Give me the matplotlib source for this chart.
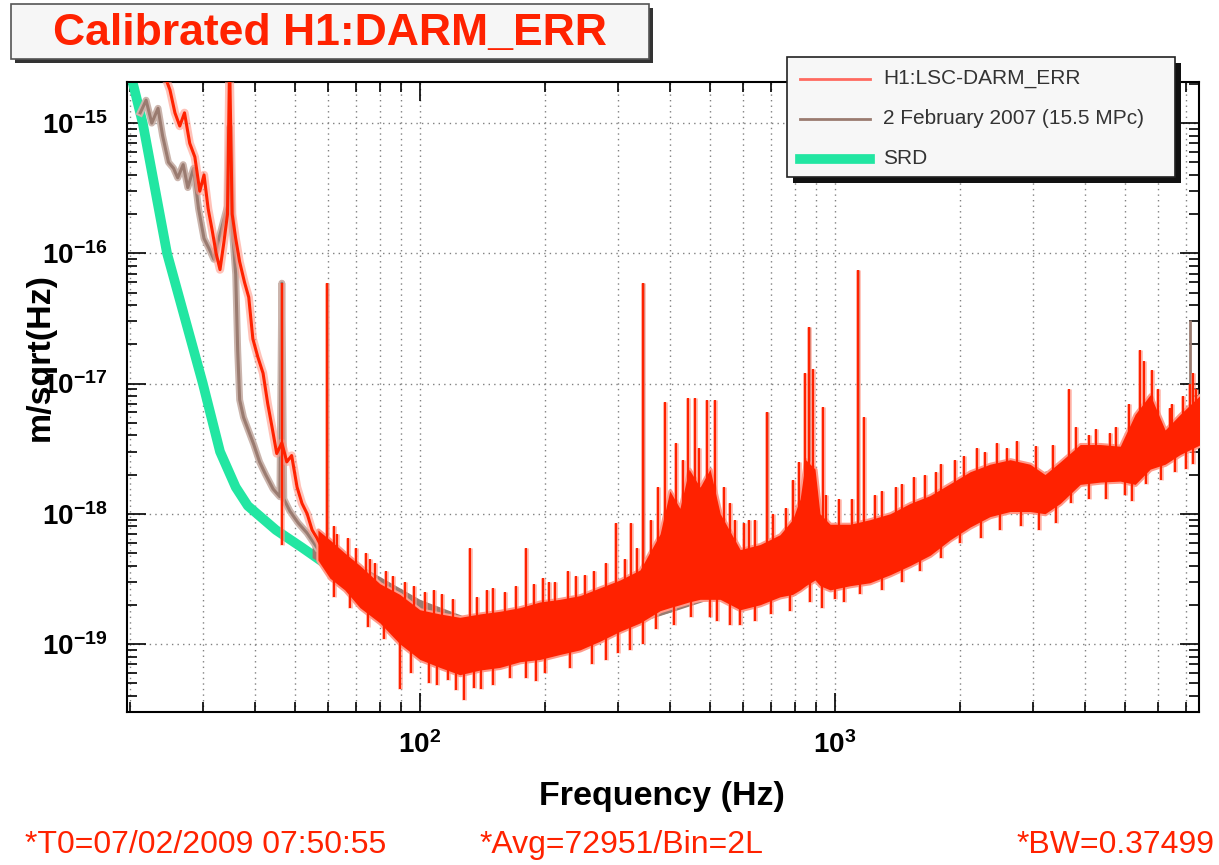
import matplotlib.pyplot as plt
import numpy as np
from matplotlib.patches import Rectangle
from matplotlib.lines import Line2D
from matplotlib.ticker import LogLocator, NullFormatter, FuncFormatter

plt.rcParams['font.family'] = ['Liberation Sans', 'DejaVu Sans']
plt.rcParams['mathtext.fontset'] = 'custom'
plt.rcParams['mathtext.rm'] = 'Liberation Sans:bold'
plt.rcParams['mathtext.bf'] = 'Liberation Sans:bold'

RED = '#ff2200'
PINK = '#ff9a8a'
BROWN = '#9a7b70'
GREEN = '#22e6a2'

# SRD design curve
srd_f = [19.5, 21.5, 24.6, 30, 33, 36, 38.5, 45, 52, 60, 70, 80, 100, 120, 150,
         180, 220, 300, 400, 500, 700, 1000, 1500, 2000, 3000, 4000, 5500, 7600]
srd_h = [3.5e-15, 1e-15, 1e-16, 1e-17, 3e-18, 1.6e-18, 1.15e-18, 7.5e-19, 5.5e-19,
         4e-19, 2.9e-19, 2.3e-19, 1.6e-19, 1.25e-19, 1.1e-19, 1.05e-19, 1.1e-19,
         1.45e-19, 1.9e-19, 2.5e-19, 3.6e-19, 5.2e-19, 7.8e-19, 1.05e-18, 1.6e-18,
         2.1e-18, 2.9e-18, 3.8e-18]

# 2 February 2007, low frequency trace
ref_f = [21.2, 21.9, 22.6, 23.4, 24.0, 24.8, 25.5, 26.1, 26.9, 27.6, 28.5, 29.3,
         30.2, 31.0, 31.9, 32.8, 33.7, 34.4, 34.8, 35.3, 36.0, 36.4, 36.8, 37.6,
         38.6, 39.8, 41.1, 42.5, 44.3, 46.0, 46.5, 47.0, 48.6, 50.9, 53.5, 56.5]
ref_h = [1.2e-15, 1.5e-15, 1.0e-15, 1.3e-15, 8e-16, 5e-16, 4.5e-16, 3.8e-16, 4.8e-16,
         3.2e-16, 4.5e-16, 2.2e-16, 1.3e-16, 1.1e-16, 9e-17, 1.3e-16, 1.8e-16, 2.3e-16,
         9.3e-16, 1.6e-16, 6.9e-17, 1.8e-17, 7.5e-18, 5.5e-18, 4.4e-18, 3.4e-18,
         2.5e-18, 2.0e-18, 1.55e-18, 1.35e-18, 5.9e-17, 1.3e-18, 1.05e-18, 8.5e-19,
         7.1e-19, 5.5e-19]
# 2 February 2007, noise band above 55 Hz
ref_band_f = [55, 65, 80, 100, 130, 170, 220, 300, 400, 520, 700, 900, 1200, 1600,
              2200, 3000, 4000, 5500, 7600]
ref_band_lo = [4.6e-19, 3.4e-19, 2.4e-19, 1.6e-19, 1.2e-19, 1.05e-19, 1.05e-19,
               1.3e-19, 1.75e-19, 2.3e-19, 3.2e-19, 4.2e-19, 5.8e-19, 7.5e-19,
               1.0e-18, 1.45e-18, 1.95e-18, 2.6e-18, 3.5e-18]
ref_band_hi = [6.5e-19, 4.8e-19, 3.3e-19, 2.2e-19, 1.6e-19, 1.45e-19, 1.45e-19,
               1.8e-19, 2.4e-19, 3.2e-19, 4.4e-19, 5.8e-19, 8e-19, 1.05e-18,
               1.4e-18, 2.0e-18, 2.6e-18, 3.4e-18, 4.6e-18]
ref_spike_f = [59.7, 345, 685, 864, 1135, 7160]
ref_spike_h = [5.9e-17, 5.9e-17, 6e-18, 2.7e-17, 7.4e-17, 3.1e-17]

# H1:LSC-DARM_ERR, low frequency trace
darm_f = [24.3, 25.0, 25.7, 26.4, 27.1, 27.9, 28.7, 29.5, 30.2, 30.9, 31.6, 32.3,
          33.0, 33.7, 34.4, 34.8, 35.3, 36.0, 36.8, 37.8, 38.7, 39.6, 40.7, 41.9,
          43.0, 44.0, 45.2, 46.5, 47.8, 49.1, 50.6, 52.0, 53.5, 55.0, 56.5, 58.1]
darm_h = [2.3e-15, 1.8e-15, 1.2e-15, 9.5e-16, 1.2e-15, 7e-16, 5.5e-16, 3.0e-16,
          4e-16, 2.2e-16, 1.5e-16, 1.0e-16, 7.5e-17, 1.2e-16, 2.0e-16, 3e-15, 2.0e-16,
          1.3e-16, 8.6e-17, 6e-17, 4.6e-17, 2.2e-17, 1.6e-17, 1.2e-17, 7e-18, 4.7e-18,
          2.9e-18, 3.5e-18, 2.5e-18, 2.8e-18, 1.6e-18, 1.2e-18, 1.0e-18, 7.5e-19,
          6.5e-19, 5.5e-19]
# H1:LSC-DARM_ERR, noise band
darm_band_f = [56.8, 60.7, 65.9, 71.7, 80.1, 89.5, 100, 111.7, 124.8, 139.5, 155.8,
               174.2, 194.6, 217.5, 243, 271.6, 303.5, 339, 379, 400, 423, 445,
               473, 500, 529, 591, 660, 737, 790, 824, 850, 895, 920, 973, 1087,
               1213, 1358, 1517, 1695, 1893, 2115, 2362, 2640, 2950, 3205, 3487,
               3896, 4353, 4864, 5284, 5744, 6240, 6784, 7600]
darm_band_lo = [4.4e-19, 3.2e-19, 2.6e-19, 1.9e-19, 1.45e-19, 1.0e-19, 7.6e-20,
                6.6e-20, 5.8e-20, 6.3e-20, 6.6e-20, 7.3e-20, 7.6e-20, 8.3e-20,
                9.0e-20, 1.05e-19, 1.25e-19, 1.45e-19, 1.8e-19, 1.9e-19, 2.0e-19,
                2.1e-19, 2.2e-19, 2.2e-19, 2.2e-19, 1.83e-19, 2.0e-19, 2.3e-19,
                2.4e-19, 2.6e-19, 2.8e-19, 3.1e-19, 2.8e-19, 2.6e-19, 2.8e-19,
                2.95e-19, 3.4e-19, 4.0e-19, 4.8e-19, 6.3e-19, 7.9e-19, 9.5e-19,
                1.04e-18, 1.04e-18, 1.0e-18, 1.2e-18, 1.68e-18, 1.75e-18, 1.78e-18,
                1.68e-18, 2.2e-18, 2.4e-18, 2.85e-18, 3.4e-18]
darm_band_hi = [7.5e-19, 6.3e-19, 5.0e-19, 4.0e-19, 2.9e-19, 2.4e-19, 1.83e-19,
                1.7e-19, 1.6e-19, 1.7e-19, 1.78e-19, 1.9e-19, 2.1e-19, 2.2e-19,
                2.35e-19, 2.7e-19, 3.1e-19, 3.7e-19, 7.0e-19, 1.5e-18, 1.1e-18,
                2.2e-18, 1.6e-18, 2.2e-18, 1.0e-18, 5.3e-19, 5.8e-19, 6.9e-19,
                9e-19, 1.3e-18, 2.6e-18, 2.2e-18, 1.0e-18, 8.3e-19, 8.3e-19,
                9.0e-19, 1.0e-18, 1.2e-18, 1.38e-18, 1.7e-18, 2.1e-18, 2.4e-18,
                2.6e-18, 2.4e-18, 2.0e-18, 2.5e-18, 3.4e-18, 3.4e-18, 3.3e-18,
                5.8e-18, 8.2e-18, 4.4e-18, 5.8e-18, 8.2e-18]
# lines and narrow peaks standing above the band
darm_spike_f = [46.5, 59.7, 62, 63, 67, 70, 74, 76, 78, 83, 86, 92, 97, 103, 108, 113,
                120, 132, 137, 145, 150, 160, 170, 180, 188, 198, 205, 212, 228,
                238, 250, 262, 280, 297, 312, 323, 333, 345, 360, 375, 389, 415,
                430, 442, 459, 470, 492, 513, 540, 560, 575, 605, 620, 640, 685,
                710, 760, 790, 820, 847, 864, 886, 935, 950, 1020, 1100, 1135,
                1174, 1250, 1300, 1400, 1450, 1550, 1650, 1750, 1800, 1950, 2050,
                2200, 2300, 2450, 2600, 2750, 3050, 3350, 3670, 3800, 4100, 4250,
                4600, 4750, 5100, 5434, 5560, 5800, 6000, 6400, 6500, 6900, 7160,
                7300, 7400]
darm_spike_h = [5.9e-17, 5.9e-17, 8e-19, 7e-19, 6.5e-19, 5.5e-19, 5e-19, 4.5e-19,
                4.2e-19, 3.6e-19, 3.3e-19, 3.0e-19, 2.8e-19, 2.5e-19, 2.6e-19, 2.4e-19,
                2.2e-19, 5.5e-19, 2.3e-19, 2.6e-19, 2.7e-19, 2.5e-19, 2.8e-19, 5.5e-19,
                2.9e-19, 3.2e-19, 3e-19, 3.0e-19, 3.6e-19, 3.3e-19, 3.4e-19, 3.6e-19,
                4.2e-19, 8.5e-19, 4.5e-19, 8.5e-19, 5.5e-19, 5.9e-17, 9e-19, 1.6e-18,
                7.2e-18, 3.5e-18, 2.6e-18, 7.7e-18, 7.7e-18, 3.2e-18, 7.5e-18, 7.5e-18,
                1.6e-18, 1.2e-18, 9e-19, 8.5e-19, 9e-19, 9e-19, 6e-18, 1.0e-18, 1.1e-18,
                1.8e-18, 2.5e-18, 1.2e-17, 2.7e-17, 1.3e-17, 6.6e-18, 1.4e-18, 1.3e-18,
                1.3e-18, 7.4e-17, 5.5e-18, 1.4e-18, 1.5e-18, 1.6e-18, 1.7e-18, 1.9e-18,
                2.0e-18, 2.1e-18, 2.4e-18, 2.6e-18, 2.8e-18, 3.2e-18, 3.0e-18, 3.5e-18,
                3.2e-18, 3.6e-18, 3.3e-18, 3.4e-18, 9e-18, 4.6e-18, 4e-18, 4.5e-18,
                4.2e-18, 4.6e-18, 7e-18, 1.8e-17, 1.5e-17, 1.26e-17, 9e-18, 6.5e-18,
                7e-18, 8e-18, 1.0e-17, 1.2e-17, 9e-18]
# narrow dips below the band
darm_dip_f = [62, 68, 75, 82, 89.5, 95, 105, 110, 117, 122, 128, 135, 140, 150, 165,
              180, 190, 200, 230, 260, 280, 300, 320, 345, 370, 410, 450, 500, 520,
              560, 590, 640, 700, 780, 870, 930, 1000, 1050, 1150, 1300, 1450,
              1600, 1800, 2000, 2250, 2500, 2800, 3100, 3400, 3700, 4100, 4500,
              5000, 5200, 5600, 6100, 6600, 7000, 7300]
darm_dip_h = [2.3e-19, 1.9e-19, 1.35e-19, 1.1e-19, 4.5e-20, 6e-20, 5e-20, 4.8e-20,
              5.3e-20, 4.4e-20, 3.7e-20, 4.6e-20, 4.5e-20, 4.8e-20, 5.5e-20, 5.5e-20,
              5.2e-20, 6e-20, 6.5e-20, 7e-20, 7.5e-20, 8.5e-20, 9e-20, 1e-19, 1.3e-19,
              1.4e-19, 1.6e-19, 1.6e-19, 1.5e-19, 1.4e-19, 1.4e-19, 1.5e-19, 1.7e-19,
              1.8e-19, 2.1e-19, 1.9e-19, 2.2e-19, 2.1e-19, 2.4e-19, 2.6e-19, 3e-19,
              3.6e-19, 4.6e-19, 6e-19, 6.5e-19, 7.5e-19, 8e-19, 7.5e-19, 8.5e-19,
              1.2e-18, 1.3e-18, 1.3e-18, 1.4e-18, 1.25e-18, 1.7e-18, 1.8e-18, 2.1e-18,
              2.2e-18, 2.4e-18]

x_lim = (19.7, 7530)
y_lim = (3.0e-20, 2.07e-15)


def band_mid(f, band_f, lo, hi):
    # geometric centre of a band at frequency f, used as spike foot
    mid = 0.5 * (np.log10(lo) + np.log10(hi))
    return 10 ** np.interp(np.log10(f), np.log10(band_f), mid)


def decade_label(v, pos):
    return r'$\mathbf{10^{%d}}$' % int(round(np.log10(v)))


fig = plt.figure(figsize=(12.19, 8.65), dpi=100)
ax = fig.add_axes([127 / 1219, 1 - 712 / 865, 1072 / 1219, 630 / 865])
ax.set_xscale('log')
ax.set_yscale('log')

# SRD
ax.plot(srd_f, srd_h, color=GREEN, lw=7, solid_capstyle='butt', zorder=2)

# 2007 reference
ax.fill_between(ref_band_f, ref_band_lo, ref_band_hi, color=BROWN, lw=0, zorder=3)
ax.plot(ref_f, ref_h, color='#cbb5ad', lw=5, zorder=3)
ax.plot(ref_f, ref_h, color=BROWN, lw=2.2, zorder=3)
ref_base = band_mid(ref_spike_f, ref_band_f, ref_band_lo, ref_band_hi)
ax.vlines(ref_spike_f, ref_base, ref_spike_h, color=BROWN, lw=2, zorder=3)

# current DARM_ERR
ax.plot(darm_f, darm_h, color=PINK, lw=6, alpha=0.6, zorder=4)
ax.plot(darm_f, darm_h, color=RED, lw=2.2, zorder=5)
ax.fill_between(darm_band_f, darm_band_lo, darm_band_hi, color=PINK, lw=3,
                edgecolor=PINK, zorder=4)
ax.fill_between(darm_band_f, darm_band_lo, darm_band_hi, color=RED, lw=0, zorder=5)
up_base = band_mid(darm_spike_f, darm_band_f, darm_band_lo, darm_band_hi)
ax.vlines(darm_spike_f, up_base, darm_spike_h, color=PINK, lw=3.5, alpha=0.6, zorder=4)
ax.vlines(darm_spike_f, up_base, darm_spike_h, color=RED, lw=1.6, zorder=5)
dn_base = band_mid(darm_dip_f, darm_band_f, darm_band_lo, darm_band_hi)
ax.vlines(darm_dip_f, darm_dip_h, dn_base, color=PINK, lw=3.5, alpha=0.6, zorder=4)
ax.vlines(darm_dip_f, darm_dip_h, dn_base, color=RED, lw=1.6, zorder=5)

ax.set_xlim(*x_lim)
ax.set_ylim(*y_lim)

ax.xaxis.set_minor_locator(LogLocator(base=10, subs=np.arange(2, 10)))
ax.yaxis.set_minor_locator(LogLocator(base=10, subs=np.arange(2, 10)))
ax.xaxis.set_major_formatter(FuncFormatter(decade_label))
ax.yaxis.set_major_formatter(FuncFormatter(decade_label))
ax.xaxis.set_minor_formatter(NullFormatter())
ax.yaxis.set_minor_formatter(NullFormatter())
ax.tick_params(which='both', direction='in', top=True, right=True, width=1.2,
               labelsize=20)
ax.tick_params(which='major', length=14)
ax.tick_params(which='minor', length=7)
ax.tick_params(axis='x', pad=14)
ax.tick_params(axis='y', pad=14)

ax.grid(True, axis='x', which='both', color='#808080', lw=1, ls=(0, (1, 3)))
ax.grid(True, axis='y', which='major', color='#808080', lw=1, ls=(0, (1, 3)))
for s in ax.spines.values():
    s.set_linewidth(1.5)

W, H = 1219.0, 865.0
fig.text(662 / W, 1 - 797 / H, 'Frequency (Hz)', ha='center', va='center',
         fontsize=24.5, fontweight='bold')
fig.text(40 / W, 1 - 357 / H, 'm/sqrt(Hz)', ha='center', va='center',
         rotation=90, fontsize=24.5, fontweight='bold')

# title box
fig.patches.append(Rectangle((15 / W, 1 - 63 / H), 638 / W, 55 / H,
                             transform=fig.transFigure, facecolor='#333333',
                             edgecolor='none', zorder=1))
fig.patches.append(Rectangle((11 / W, 1 - 59 / H), 638 / W, 55 / H,
                             transform=fig.transFigure, facecolor='#f6f6f6',
                             edgecolor='#555555', lw=1.2, zorder=2))
fig.text(330 / W, 1 - 33 / H, 'Calibrated H1:DARM_ERR', ha='center', va='center',
         fontsize=32, fontweight='bold', color=RED, zorder=3)

# legend box
fig.patches.append(Rectangle((793 / W, 1 - 183 / H), 388 / W, 120 / H,
                             transform=fig.transFigure, facecolor='#111111',
                             edgecolor='none', zorder=6))
fig.patches.append(Rectangle((787 / W, 1 - 177 / H), 388 / W, 120 / H,
                             transform=fig.transFigure, facecolor='#f7f7f7',
                             edgecolor='#222222', lw=1.2, zorder=7))
legend_labels = ['H1:LSC-DARM_ERR', '2 February 2007 (15.5 MPc)', 'SRD']
legend_colors = ['#ff6a60', BROWN, GREEN]
legend_widths = [2, 2, 7]
for i, (lab, col, lw) in enumerate(zip(legend_labels, legend_colors, legend_widths)):
    yy = 1 - (79 + 40 * i) / H
    fig.lines.append(Line2D([800 / W, 870 / W], [yy, yy], transform=fig.transFigure,
                            color=col, lw=lw, zorder=8))
    fig.text(883 / W, yy, lab, ha='left', va='center', fontsize=15,
             color='#333333', zorder=8)

# run info
fig.text(25 / W, 1 - 845 / H, '*T0=07/02/2009 07:50:55', ha='left', va='center',
         fontsize=23, color=RED)
fig.text(622 / W, 1 - 845 / H, '*Avg=72951/Bin=2L', ha='center', va='center',
         fontsize=23, color=RED)
fig.text(1215 / W, 1 - 845 / H, '*BW=0.37499', ha='right', va='center',
         fontsize=23, color=RED)

fig.savefig('out.png', dpi=100)
